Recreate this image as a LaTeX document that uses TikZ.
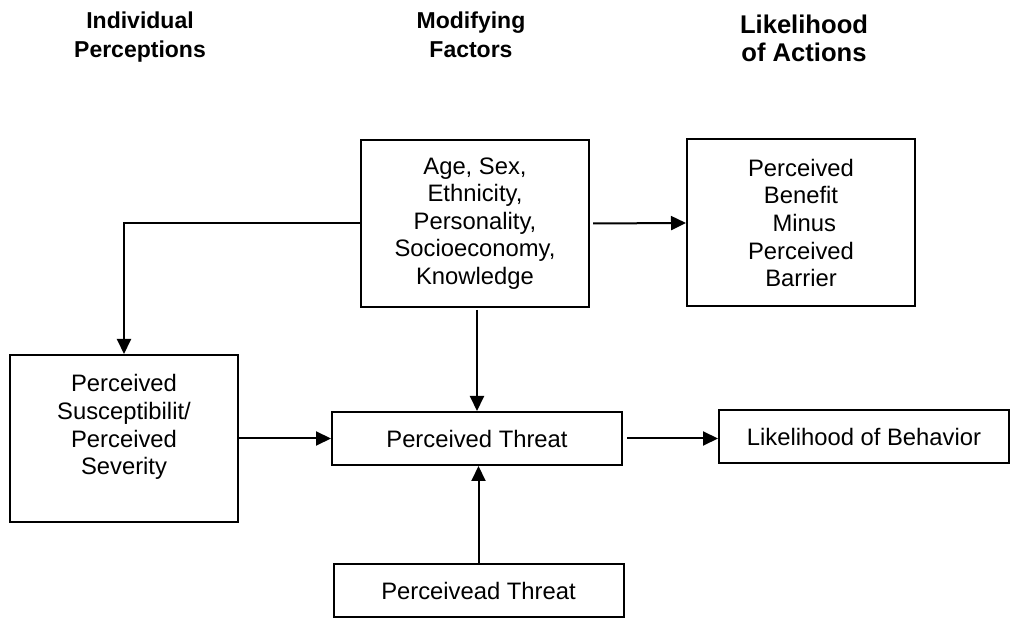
\documentclass[tikz,border=0pt]{standalone}
\usepackage{fontspec}
\setmainfont{Liberation Sans}
\usetikzlibrary{arrows.meta}

\tikzset{
  box/.style={draw,line width=1pt,align=center,inner sep=0pt,
    font=\fontsize{11.9}{13.8}\selectfont},
  bigbox/.style={box,minimum width=114pt,minimum height=83.5pt},
  widebox/.style={box,minimum width=145pt,minimum height=26.5pt},
  head/.style={align=center,inner sep=0pt,font=\bfseries\fontsize{11.5}{14.5}\selectfont},
  arr/.style={-{Triangle[length=7.5pt,width=7pt]},line width=1pt}
}

\begin{document}
\begin{tikzpicture}[x=0.5pt,y=-0.5pt,line cap=butt,line join=miter]
\useasboundingbox (0,0) rectangle (1012,619);

% column titles
\node[head] (h1) at (140,37) {Individual\\Perceptions};
\node[head] (h2) at (471,35) {Modifying\\Factors};
\node[head,font=\bfseries\fontsize{12.8}{14}\selectfont] (h3) at (804,38) {Likelihood\\of Actions};

% boxes
\node[bigbox] (mod) at (475,223.5) {Age, Sex,\\Ethnicity,\\Personality,\\Socioeconomy,\\Knowledge};
\node[bigbox] (ben) at (801,223) {Perceived\\Benefit\\\ Minus\\Perceived\\Barrier};
\node[bigbox] (sus) at (124,438.5) {Perceived\\Susceptibilit/\\Perceived\\Severity\\\mbox{}};
\node[widebox] (thr) at (477,438.5) {Perceived Threat};
\node[widebox] (lik) at (864,437) {Likelihood of Behavior};
\node[widebox] (pth) at (478.5,591) {Perceivead Threat};

% arrows
\draw[arr] (mod.west) -| (sus.north);
\draw[arr,shorten <=1.5pt] (mod.east) -- (ben.west);
\draw[arr,shorten <=1pt] (mod.south -| thr.north) -- (thr.north);
\draw[arr] (sus.east) -- (thr.west);
\draw[arr,shorten <=2pt] (thr.east) -- (thr.east -| lik.west);
\draw[arr] (pth.north) -- (pth.north |- thr.south);

\end{tikzpicture}
\end{document}
